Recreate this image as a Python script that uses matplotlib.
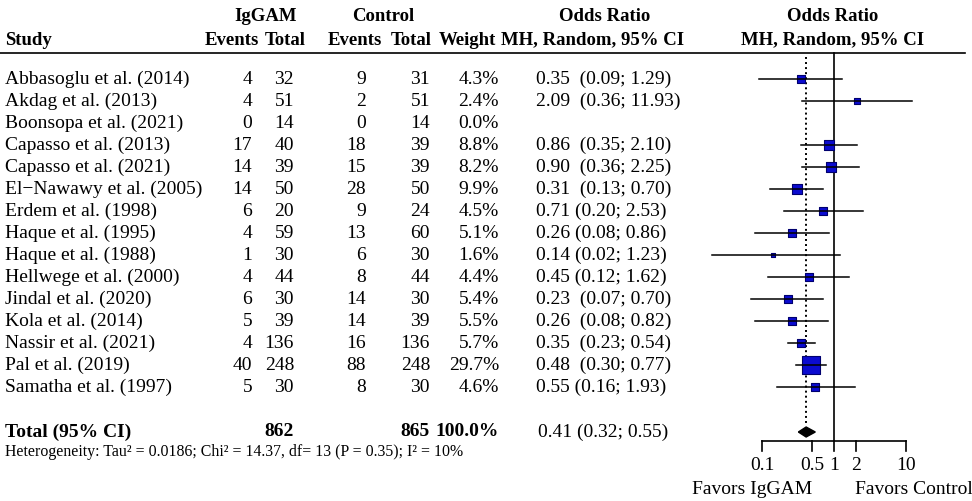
import numpy as np
import matplotlib
matplotlib.use("Agg")
import matplotlib.pyplot as plt

plt.rcParams['font.family'] = ['Liberation Serif', 'DejaVu Serif']

studies = ["Abbasoglu et al. (2014)", "Akdag et al. (2013)", "Boonsopa et al. (2021)",
           "Capasso et al. (2013)", "Capasso et al. (2021)", "El\u2212Nawawy et al. (2005)",
           "Erdem et al. (1998)", "Haque et al. (1995)", "Haque et al. (1988)",
           "Hellwege et al. (2000)", "Jindal et al. (2020)", "Kola et al. (2014)",
           "Nassir et al. (2021)", "Pal et al. (2019)", "Samatha et al. (1997)"]
ig_events = [4, 4, 0, 17, 14, 14, 6, 4, 1, 4, 6, 5, 4, 40, 5]
ig_total = [32, 51, 14, 40, 39, 50, 20, 59, 30, 44, 30, 39, 136, 248, 30]
ct_events = [9, 2, 0, 18, 15, 28, 9, 13, 6, 8, 14, 14, 16, 88, 8]
ct_total = [31, 51, 14, 39, 39, 50, 24, 60, 30, 44, 30, 39, 136, 248, 30]
weight = [4.3, 2.4, 0.0, 8.8, 8.2, 9.9, 4.5, 5.1, 1.6, 4.4, 5.4, 5.5, 5.7, 29.7, 4.6]
or_est = [0.35, 2.09, np.nan, 0.86, 0.90, 0.31, 0.71, 0.26, 0.14, 0.45, 0.23, 0.26, 0.35, 0.48, 0.55]
or_lo = [0.09, 0.36, np.nan, 0.35, 0.36, 0.13, 0.20, 0.08, 0.02, 0.12, 0.07, 0.08, 0.23, 0.30, 0.16]
or_hi = [1.29, 11.93, np.nan, 2.10, 2.25, 0.70, 2.53, 0.86, 1.23, 1.62, 0.70, 0.82, 0.54, 0.77, 1.93]
# the original table puts two spaces after the estimate on some rows
or_gap = [2, 2, 1, 2, 2, 2, 1, 1, 1, 1, 2, 2, 2, 2, 1]
total_ig, total_ct, total_weight = 862, 865, 100.0
pooled = (0.41, 0.32, 0.55)
ticks = [0.1, 0.5, 1, 2, 10]
hetero = "Heterogeneity: Tau\u00b2 = 0.0186; Chi\u00b2 = 14.37, df= 13 (P = 0.35); I\u00b2 = 10%"

W, H = 972, 501
fig = plt.figure(figsize=(W / 100, H / 100), dpi=100)
fig.patch.set_facecolor("white")

# text layer in pixel coords
tx = fig.add_axes([0, 0, 1, 1])
tx.set_xlim(0, W)
tx.set_ylim(H, 0)
tx.axis("off")

fs = 14
row_y = [79 + 22 * i for i in range(len(studies))]
tot_y = 432

# headers
hb = dict(va="center", fontsize=13.5, fontweight="bold")
tx.text(266, 16, "IgGAM", ha="center", **hb)
tx.text(383, 16, "Control", ha="center", **hb)
tx.text(605, 16, "Odds Ratio", ha="center", **hb)
tx.text(833, 16, "Odds Ratio", ha="center", **hb)
tx.text(5, 40, "Study", ha="left", **hb)
tx.text(232, 40, "Events", ha="center", **hb)
tx.text(285, 40, "Total", ha="center", **hb)
tx.text(355, 40, "Events", ha="center", **hb)
tx.text(411, 40, "Total", ha="center", **hb)
tx.text(467, 40, "Weight", ha="center", **hb)
tx.text(593, 40, "MH, Random, 95% CI", ha="center", **hb)
tx.text(833, 40, "MH, Random, 95% CI", ha="center", **hb)
tx.plot([0, 965], [53, 53], color="black", lw=1.2)

for i, s in enumerate(studies):
    y = row_y[i]
    tx.text(5, y, s, ha="left", va="center", fontsize=fs)
    tx.text(252, y, str(ig_events[i]), ha="right", va="center", fontsize=fs)
    tx.text(294, y, str(ig_total[i]), ha="right", va="center", fontsize=fs)
    tx.text(366, y, str(ct_events[i]), ha="right", va="center", fontsize=fs)
    tx.text(430, y, str(ct_total[i]), ha="right", va="center", fontsize=fs)
    tx.text(499, y, f"{weight[i]:.1f}%", ha="right", va="center", fontsize=fs)
    if not np.isnan(or_est[i]):
        gap = " " * or_gap[i]
        tx.text(536, y, f"{or_est[i]:.2f}{gap}({or_lo[i]:.2f}; {or_hi[i]:.2f})",
                ha="left", va="center", fontsize=fs)

tb = dict(va="center", fontsize=fs, fontweight="bold")
tx.text(5, tot_y, "Total (95% CI)", ha="left", **tb)
tx.text(294, tot_y, str(total_ig), ha="right", **tb)
tx.text(430, tot_y, str(total_ct), ha="right", **tb)
tx.text(499, tot_y, f"{total_weight:.1f}%", ha="right", **tb)
tx.text(538, tot_y, f"{pooled[0]:.2f} ({pooled[1]:.2f}; {pooled[2]:.2f})",
        ha="left", va="center", fontsize=fs)
tx.text(5, 452, hetero, ha="left", va="center", fontsize=11.4)

# forest panel: log scale, 0.1 at px 762, 1 at px 834, 10 at px 906
px_dec = 72.0
x0, x1 = 700, 970
fx = fig.add_axes([x0 / W, 0, (x1 - x0) / W, 1])
fx.set_xscale("log")
fx.set_xlim(10 ** ((x0 - 834) / px_dec), 10 ** ((x1 - 834) / px_dec))
fx.set_ylim(H, 0)
fx.axis("off")

fx.plot([1, 1], [53, 441], color="black", lw=1.2, zorder=1)
fx.plot([pooled[0]] * 2, [57, 426], color="black", lw=1.4, ls=(0, (1, 1.6)), zorder=1)

for i in range(len(studies)):
    if np.isnan(or_est[i]):
        continue
    y = row_y[i]
    side = 3.4 * np.sqrt(weight[i]) * 0.72
    fx.scatter([or_est[i]], [y], marker="s", s=side ** 2, color="#0b0bd0",
               edgecolors="#00006e", linewidths=0.8, zorder=2)
    fx.plot([or_lo[i], or_hi[i]], [y, y], color="black", lw=1.1, zorder=3)

d_h = 5
fx.fill([pooled[1], pooled[0], pooled[2], pooled[0]],
        [tot_y, tot_y - d_h, tot_y, tot_y + d_h], color="black", zorder=3)

# axis
fx.plot([ticks[0], ticks[-1]], [441, 441], color="black", lw=1.2)
for t in ticks:
    fx.plot([t, t], [441, 451], color="black", lw=1.2)
    fx.text(t, 465, f"{t:g}", ha="center", va="center", fontsize=fs)

tx.text(752, 490, "Favors IgGAM", ha="center", va="center", fontsize=fs)
tx.text(914, 490, "Favors Control", ha="center", va="center", fontsize=fs)

fig.savefig("out.png", dpi=100, facecolor="white")
